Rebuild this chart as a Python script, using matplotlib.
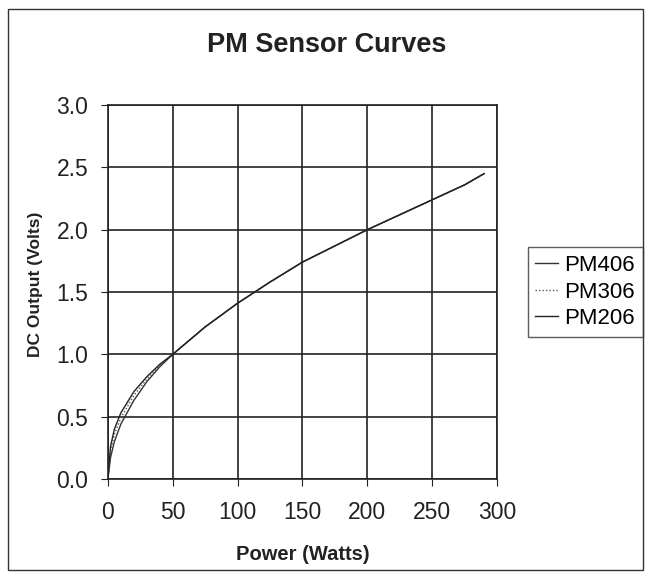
import matplotlib
matplotlib.use("Agg")
import matplotlib.pyplot as plt
from matplotlib.patches import Rectangle

plt.rcParams['font.family'] = ['Liberation Sans', 'DejaVu Sans']

# Power (W) and DC output (V)
power = [0, 2, 5, 10, 20, 30, 40, 50, 75, 100, 125, 150, 175, 200, 225, 250, 275, 290]
pm406 = [0, 0.17, 0.30, 0.44, 0.63, 0.78, 0.90, 1.00, 1.22, 1.41, 1.58, 1.74, 1.87, 2.00, 2.12, 2.24, 2.36, 2.45]
pm306 = [0, 0.22, 0.36, 0.49, 0.67, 0.80, 0.91, 1.00, 1.22, 1.41, 1.58, 1.74, 1.87, 2.00, 2.12, 2.24, 2.36, 2.45]
pm206 = [0, 0.26, 0.40, 0.53, 0.70, 0.82, 0.92, 1.00, 1.22, 1.41, 1.58, 1.74, 1.87, 2.00, 2.12, 2.24, 2.36, 2.45]

fig = plt.figure(figsize=(6.54, 5.84), dpi=100)
ax = fig.add_axes([0.165, 0.180, 0.595, 0.640])

ax.plot(power, pm406, color="#333333", lw=1.0, label="PM406")
ax.plot(power, pm306, color="#555555", lw=1.0, ls=(0, (1, 1.5)), label="PM306")
ax.plot(power, pm206, color="#222222", lw=1.0, label="PM206")

ax.set_xlim(0, 300)
ax.set_ylim(0, 3.0)
ax.set_xticks(range(0, 301, 50))
ax.set_yticks([i * 0.5 for i in range(7)])
ax.set_yticklabels([f"{i * 0.5:.1f}" for i in range(7)])
ax.grid(True, color="#222222", lw=1.2)
ax.set_axisbelow(True)
for s in ax.spines.values():
    s.set_color("#222222")
    s.set_linewidth(1.2)
ax.tick_params(labelsize=16.5, length=5, color="#222222", labelcolor="#222222")
ax.tick_params(axis="x", pad=11)
ax.tick_params(axis="y", pad=9)

fig.text(0.5, 1 - 45 / 584, "PM Sensor Curves", fontsize=19.5, fontweight="bold",
         ha="center", va="center", color="#222222")
ax.set_xlabel("Power (Watts)", fontsize=14.5, fontweight="bold", labelpad=15, color="#222222")
ax.set_ylabel("DC Output (Volts)", fontsize=12.5, fontweight="bold", color="#222222")
ax.yaxis.set_label_coords(-0.168, 0.52)

leg = ax.legend(loc="center left", bbox_to_anchor=(1.05, 0.5), fontsize=16,
                frameon=True, fancybox=False, edgecolor="#333333",
                handlelength=1.0, handletextpad=0.3, borderpad=0.35, labelspacing=0.25)
leg.get_frame().set_linewidth(1.0)

fig.patches.append(Rectangle((8 / 654, 14 / 584), 635 / 654, 561 / 584,
                             transform=fig.transFigure, fill=False,
                             edgecolor="#333333", lw=1.0))

fig.savefig("out.png", dpi=100)
